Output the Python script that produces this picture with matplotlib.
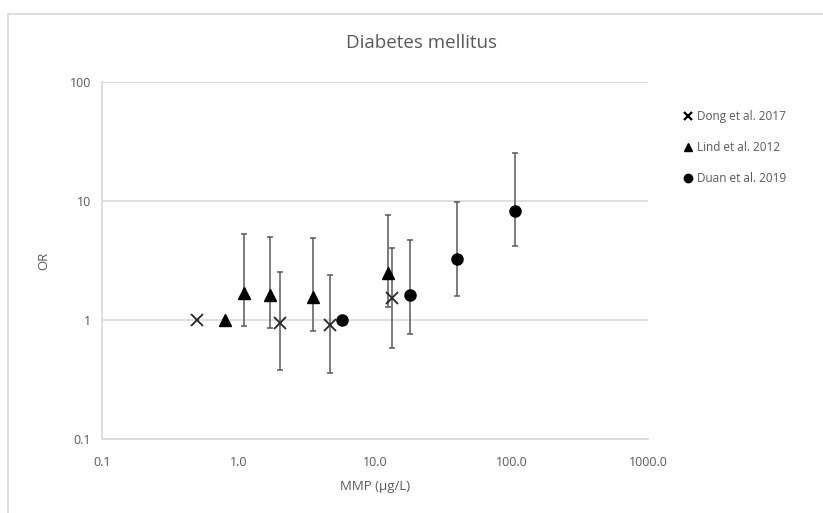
import numpy as np
import matplotlib
matplotlib.use('Agg')
import matplotlib.pyplot as plt
from matplotlib.lines import Line2D
from matplotlib.patches import Rectangle

# Data (reference groups have no CI)
dong_x  = [0.5, 2.0, 4.7, 13.4]
dong_or = [1.0, 0.94, 0.90, 1.54]
dong_lo = [None, 0.38, 0.36, 0.58]
dong_hi = [None, 2.55, 2.39, 4.0]

lind_x  = [0.8, 1.09, 1.69, 3.5, 12.4]
lind_or = [1.0, 1.68, 1.62, 1.57, 2.5]
lind_lo = [None, 0.89, 0.85, 0.81, 1.29]
lind_hi = [None, 5.27, 5.03, 4.88, 7.67]

duan_x  = [5.75, 18.2, 40.0, 106.0]
duan_or = [1.0, 1.62, 3.28, 8.3]
duan_lo = [None, 0.77, 1.59, 4.2]
duan_hi = [None, 4.72, 9.8, 25.4]

x_ticks = [0.1, 1, 10, 100, 1000]
x_labels = ['0.1', '1.0', '10.0', '100.0', '1000.0']
y_ticks = [0.1, 1, 10, 100]
y_labels = ['0.1', '1', '10', '100']

TXT = '#595959'
GRID = '#d9d9d9'
plt.rcParams['font.family'] = ['Open Sans', 'DejaVu Sans']

fig = plt.figure(figsize=(8.23, 5.13), dpi=100)
fig.patches.append(Rectangle((8/823, -0.1), 2.0, 1 - 14/513 + 0.1,
                             transform=fig.transFigure, fill=False,
                             edgecolor=GRID, linewidth=1.2))
ax = fig.add_axes([102/823, 1 - 439/513, (648-102)/823, (439-82)/513])

series = [
    (dong_x, dong_or, dong_lo, dong_hi, 'x', 9, 'Dong et al. 2017'),
    (lind_x, lind_or, lind_lo, lind_hi, '^', 9, 'Lind et al. 2012'),
    (duan_x, duan_or, duan_lo, duan_hi, 'o', 8, 'Duan et al. 2019'),
]
for xs, ys, lo, hi, mk, ms, lab in series:
    idx = [i for i in range(len(xs)) if lo[i] is not None]
    ex = np.array([xs[i] for i in idx])
    ey = np.array([ys[i] for i in idx])
    el = ey - np.array([lo[i] for i in idx])
    eh = np.array([hi[i] for i in idx]) - ey
    ax.errorbar(ex, ey, yerr=[el, eh], fmt='none', ecolor=TXT,
                elinewidth=1.1, capsize=2.5, capthick=1.1, zorder=2)
    if mk == 'x':
        ax.plot(xs, ys, mk, color='#262626', ms=ms, mew=1.3, ls='none', zorder=3)
    else:
        ax.plot(xs, ys, mk, color='black', ms=ms, ls='none', zorder=3)

ax.set_xscale('log')
ax.set_yscale('log')
ax.set_xlim(0.1, 1000)
ax.set_ylim(0.1, 100)
ax.set_xticks(x_ticks)
ax.set_xticklabels(x_labels)
ax.set_yticks(y_ticks)
ax.set_yticklabels(y_labels)
ax.minorticks_off()
ax.tick_params(length=0, colors=TXT, labelsize=9, pad=12)
ax.tick_params(axis='y', pad=8)
ax.yaxis.grid(True, color=GRID, linewidth=1.2)
ax.set_axisbelow(True)
for s in ['top', 'right']:
    ax.spines[s].set_visible(False)
for s in ['left', 'bottom']:
    ax.spines[s].set_color(GRID)
    ax.spines[s].set_linewidth(1.2)

ax.set_xlabel('MMP (µg/L)', color=TXT, fontsize=9.5, labelpad=8)
ax.set_ylabel('OR', color=TXT, fontsize=9.5, labelpad=14)
fig.text(422/823, 1 - 43/513, 'Diabetes mellitus', ha='center', va='center',
         color=TXT, fontsize=13.5)

handles = [
    Line2D([], [], marker='x', color='black', ms=6, mew=1.6, ls='none'),
    Line2D([], [], marker='^', color='black', ms=6, ls='none'),
    Line2D([], [], marker='o', color='black', ms=6, ls='none'),
]
fig.legend(handles, [s[6] for s in series], loc='upper left',
           bbox_to_anchor=(680/823, 1 - 105/513), frameon=False,
           fontsize=8.5, labelcolor=TXT, handlelength=0.6,
           handletextpad=0.4, labelspacing=1.55, borderaxespad=0)

fig.savefig('out.png', dpi=100, facecolor='white')
